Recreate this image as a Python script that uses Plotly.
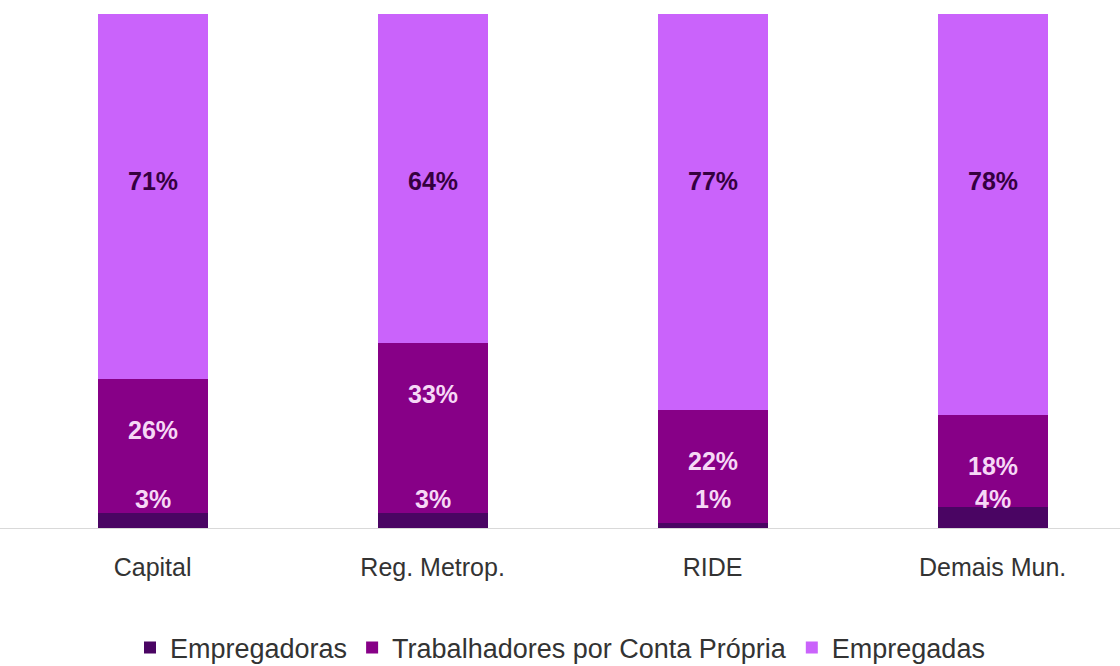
import plotly.graph_objects as go

# Distribuição por posição na ocupação (%)
categories = ["Capital", "Reg. Metrop.", "RIDE", "Demais Mun."]
empregadoras = [3, 3, 1, 4]
conta_propria = [26, 33, 22, 18]
empregadas = [71, 64, 77, 78]

series_names = ["Empregadoras", "Trabalhadores por Conta Própria", "Empregadas"]
colors = ["#4A0563", "#870087", "#CA63FB"]

LABEL_FONT = "Liberation Sans, Arial"
TEXT_FONT = "Liberation Sans, Arial"

fig = go.Figure()
for name, vals, col in zip(series_names, [empregadoras, conta_propria, empregadas], colors):
    fig.add_trace(go.Bar(
        x=categories, y=vals, name=name,
        marker=dict(color=col, line=dict(width=0)),
        width=0.393, hoverinfo="skip",
    ))

# value labels
light = dict(family=LABEL_FONT, size=25, color="#F6D8F6", weight="bold")
dark = dict(family=LABEL_FONT, size=25, color="#35003F", weight="bold")
annotations = []
for i, cat in enumerate(categories):
    annotations.append(dict(
        x=cat, y=5.6, text=f"{empregadoras[i]}%", showarrow=False,
        font=light, yanchor="middle",
    ))
    top_mid = empregadoras[i] + conta_propria[i]
    annotations.append(dict(
        x=cat, y=top_mid - 10, text=f"{conta_propria[i]}%", showarrow=False,
        font=light, yanchor="middle",
    ))
    annotations.append(dict(
        x=cat, y=67.5, text=f"{empregadas[i]}%", showarrow=False,
        font=dark, yanchor="middle",
    ))

fig.update_layout(
    width=1120, height=666,
    margin=dict(l=0, r=0, t=14, b=138, autoexpand=False),
    barmode="stack",
    paper_bgcolor="white", plot_bgcolor="white",
    showlegend=True,
    legend=dict(
        orientation="h", x=0.5, xanchor="center",
        yref="container", y=0.027, yanchor="middle",
        font=dict(family=TEXT_FONT, size=27, color="#333333"),
        traceorder="normal", itemwidth=30,
    ),
    annotations=annotations,
    xaxis=dict(
        range=[-0.545, 3.455], showgrid=False, zeroline=False,
        showline=True, linecolor="#D9D9D9", linewidth=1,
        ticks="outside", ticklen=17, tickcolor="rgba(0,0,0,0)",
        tickfont=dict(family=TEXT_FONT, size=25, color="#333333"),
    ),
    yaxis=dict(range=[0, 100], visible=False, fixedrange=True),
)

fig.write_html("out.html")
